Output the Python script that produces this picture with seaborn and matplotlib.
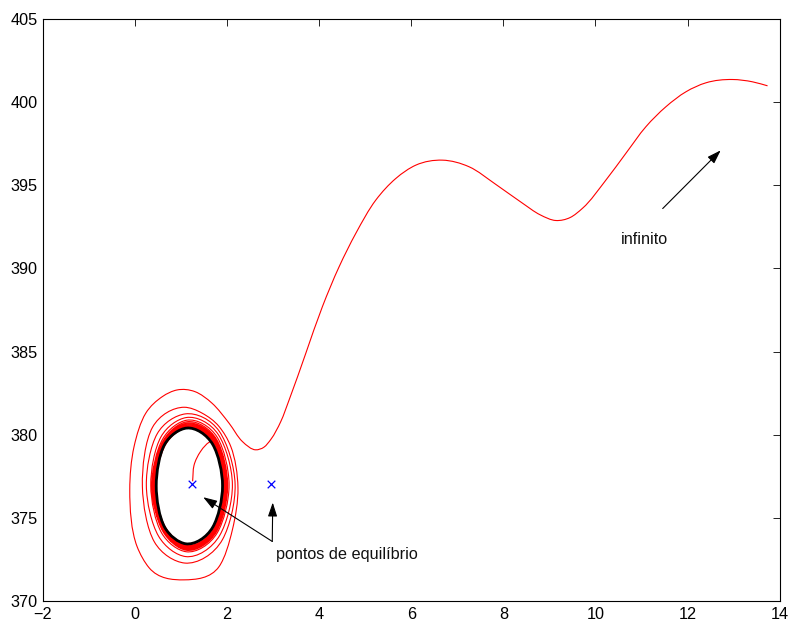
import numpy as np
import matplotlib
matplotlib.use("Agg")
import matplotlib.pyplot as plt
from matplotlib.path import Path
from matplotlib.patches import PathPatch
import seaborn as sns
import pandas as pd

# ---------------- data ----------------
xticks = [-2, 0, 2, 4, 6, 8, 10, 12, 14]
yticks = [370, 375, 380, 385, 390, 395, 400, 405]

# equilibrium points
equil_x = [1.245, 2.96]
equil_y = [377.03, 377.03]

# limit cycle (black, closed)
cycle_x = [1.13, 1.69, 1.90, 1.69, 1.10, 0.64, 0.46, 0.64]
cycle_y = [380.40, 379.40, 376.92, 374.45, 373.44, 374.45, 376.92, 379.40]

# red trajectory: start near equilibrium, spiral outwards
spiral_x = [1.25, 1.28, 1.42, 1.645,
            1.91, 1.70, 1.11, 0.66, 0.45, 0.66, 1.13,
            1.72, 1.93, 1.72, 1.11, 0.655, 0.44, 0.655, 1.13,
            1.73, 1.95, 1.73, 1.11, 0.645, 0.425, 0.645, 1.13,
            1.74, 1.965, 1.74, 1.11, 0.635, 0.41, 0.635, 1.13,
            1.75, 1.98, 1.75, 1.11, 0.625, 0.395, 0.625, 1.13,
            1.76, 1.995, 1.76, 1.11, 0.615, 0.38, 0.615, 1.13,
            1.77, 2.01, 1.77, 1.11, 0.605, 0.365, 0.60, 1.12,
            1.79, 2.042, 1.79, 1.11, 0.575, 0.341, 0.565, 1.11,
            1.81, 2.114, 1.84, 1.10, 0.51, 0.245, 0.48, 1.09,
            1.83, 2.173, 1.90, 1.08, 0.42, 0.159, 0.38, 1.065,
            1.46, 1.825, 2.079, 2.235, 2.114, 1.825, 1.065, 0.304, 0.043,
            -0.115, -0.022, 0.232, 0.593, 0.912]
spiral_y = [377.20, 378.15, 378.98, 379.59,
            376.92, 374.43, 373.42, 374.43, 376.92, 379.39, 380.42,
            379.45, 376.93, 374.38, 373.35, 374.38, 376.93, 379.45, 380.49,
            379.50, 376.93, 374.34, 373.29, 374.34, 376.93, 379.50, 380.56,
            379.55, 376.94, 374.30, 373.23, 374.30, 376.94, 379.55, 380.63,
            379.60, 376.94, 374.26, 373.17, 374.26, 376.94, 379.60, 380.70,
            379.65, 376.95, 374.22, 373.11, 374.22, 376.95, 379.65, 380.78,
            379.72, 376.95, 374.18, 373.05, 374.18, 376.95, 379.74, 380.87,
            379.82, 376.98, 374.12, 372.96, 374.10, 376.95, 379.88, 381.03,
            380.00, 377.00, 373.95, 372.67, 373.90, 376.95, 380.05, 381.25,
            380.20, 377.00, 373.70, 372.28, 373.55, 376.90, 380.45, 381.65,
            381.29, 380.49, 379.29, 376.80, 374.28, 372.07, 371.27, 372.00, 373.28,
            376.68, 379.28, 381.29, 382.29, 382.69]

# escape towards infinity
escape_x = [1.30, 1.673, 2.042, 2.331, 2.622, 2.80, 2.95, 3.165, 3.346, 3.709,
            4.069, 4.432, 4.795, 5.229, 5.664, 6.098, 6.676, 7.256, 7.836, 8.40,
            8.80, 9.14, 9.45, 9.72, 10.226, 10.660, 11.095, 11.529, 11.964, 12.398,
            12.976, 13.411, 13.737]
escape_y = [382.59, 381.89, 380.69, 379.59, 379.09, 379.25, 379.72, 380.79, 382.09, 384.90,
            387.70, 390.10, 392.11, 394.11, 395.41, 396.21, 396.51, 396.11, 395.05, 393.95,
            393.22, 392.88, 393.06, 393.62, 395.31, 396.92, 398.52, 399.72, 400.62, 401.16,
            401.36, 401.22, 400.98]

label_eq = "pontos de equilíbrio"
label_inf = "infinito"
eq_text_xy = (3.07, 372.50)
eq_arrow_start = (2.98, 373.58)
eq_arrow_tips = [(1.48, 376.24), (2.99, 375.92)]
inf_text_xy = (10.55, 391.45)
inf_arrow_start = (11.46, 393.60)
inf_arrow_tip = (12.72, 397.10)

# ---------------- style ----------------
sns.set_style("white")
plt.rcParams['font.family'] = ['Liberation Sans', 'DejaVu Sans']
plt.rcParams['axes.unicode_minus'] = True

fig = plt.figure(figsize=(7.9, 6.22), dpi=100)
ax = fig.add_axes([0.0544, 0.0338, 0.9325, 0.9357])
ax.set_xlim(-2, 14)
ax.set_ylim(370, 405)

# metric used only to measure chord lengths between read points
SX, SY = 4.8, 1.0


def smooth_path(xs, ys, closed=False):
    """Smooth rendering through the read points (chord-length Catmull-Rom as Bezier)."""
    P = np.column_stack([xs, ys]).astype(float)
    if closed:
        Q = np.vstack([P[-1], P, P[0], P[1]])
    else:
        Q = np.vstack([P[0], P, P[-1]])
    d = np.hypot(np.diff(Q[:, 0]) * SX, np.diff(Q[:, 1]) * SY)
    d[d < 1e-9] = 1e-9
    T = np.zeros_like(Q)
    for i in range(1, len(Q) - 1):
        s0 = (Q[i] - Q[i - 1]) / d[i - 1]
        s1 = (Q[i + 1] - Q[i]) / d[i]
        T[i] = (s0 * d[i] + s1 * d[i - 1]) / (d[i - 1] + d[i])
    if not closed:
        T[1] = (Q[2] - Q[1]) / d[1]
        T[-2] = (Q[-2] - Q[-3]) / d[-3]
    verts = [Q[1]]
    codes = [Path.MOVETO]
    for i in range(1, len(Q) - 2):
        h = d[i]
        verts += [Q[i] + T[i] * h / 3.0, Q[i + 1] - T[i + 1] * h / 3.0, Q[i + 1]]
        codes += [Path.CURVE4] * 3
    return Path(np.array(verts), codes)


traj_x = spiral_x + escape_x
traj_y = spiral_y + escape_y
ax.add_patch(PathPatch(smooth_path(traj_x, traj_y), facecolor='none',
                       edgecolor=(1, 0, 0), lw=0.8, zorder=2))
ax.add_patch(PathPatch(smooth_path(cycle_x, cycle_y, closed=True), facecolor='none',
                       edgecolor='black', lw=2.0, zorder=3))

eq_df = pd.DataFrame({"x": equil_x, "y": equil_y})
sns.scatterplot(data=eq_df, x="x", y="y", marker="x", color=(0, 0, 1), s=30,
                linewidth=0.9, ax=ax, zorder=4, legend=False)

arrow_kw = dict(arrowstyle='-|>,head_length=0.6,head_width=0.2', color='black',
                lw=0.8, mutation_scale=14, shrinkA=0, shrinkB=0)
for tip in eq_arrow_tips:
    ax.annotate("", xy=tip, xytext=eq_arrow_start, arrowprops=arrow_kw, zorder=5)
ax.annotate("", xy=inf_arrow_tip, xytext=inf_arrow_start, arrowprops=arrow_kw, zorder=5)

ax.text(eq_text_xy[0], eq_text_xy[1], label_eq, fontsize=11.7, ha='left', va='baseline',
        color='#111111')
ax.text(inf_text_xy[0], inf_text_xy[1], label_inf, fontsize=11.7, ha='left', va='baseline',
        color='#111111')

ax.set_xlim(-2, 14)
ax.set_ylim(370, 405)
ax.set_xticks(xticks)
ax.set_yticks(yticks)
ax.set_xlabel("")
ax.set_ylabel("")
ax.tick_params(direction='in', top=True, right=True, length=5.3, width=0.6,
               labelsize=11.7, pad=4, colors='black')
for s in ax.spines.values():
    s.set_visible(True)
    s.set_color('black')
    s.set_linewidth(0.8)
ax.grid(False)

fig.savefig("out.png", dpi=100)
